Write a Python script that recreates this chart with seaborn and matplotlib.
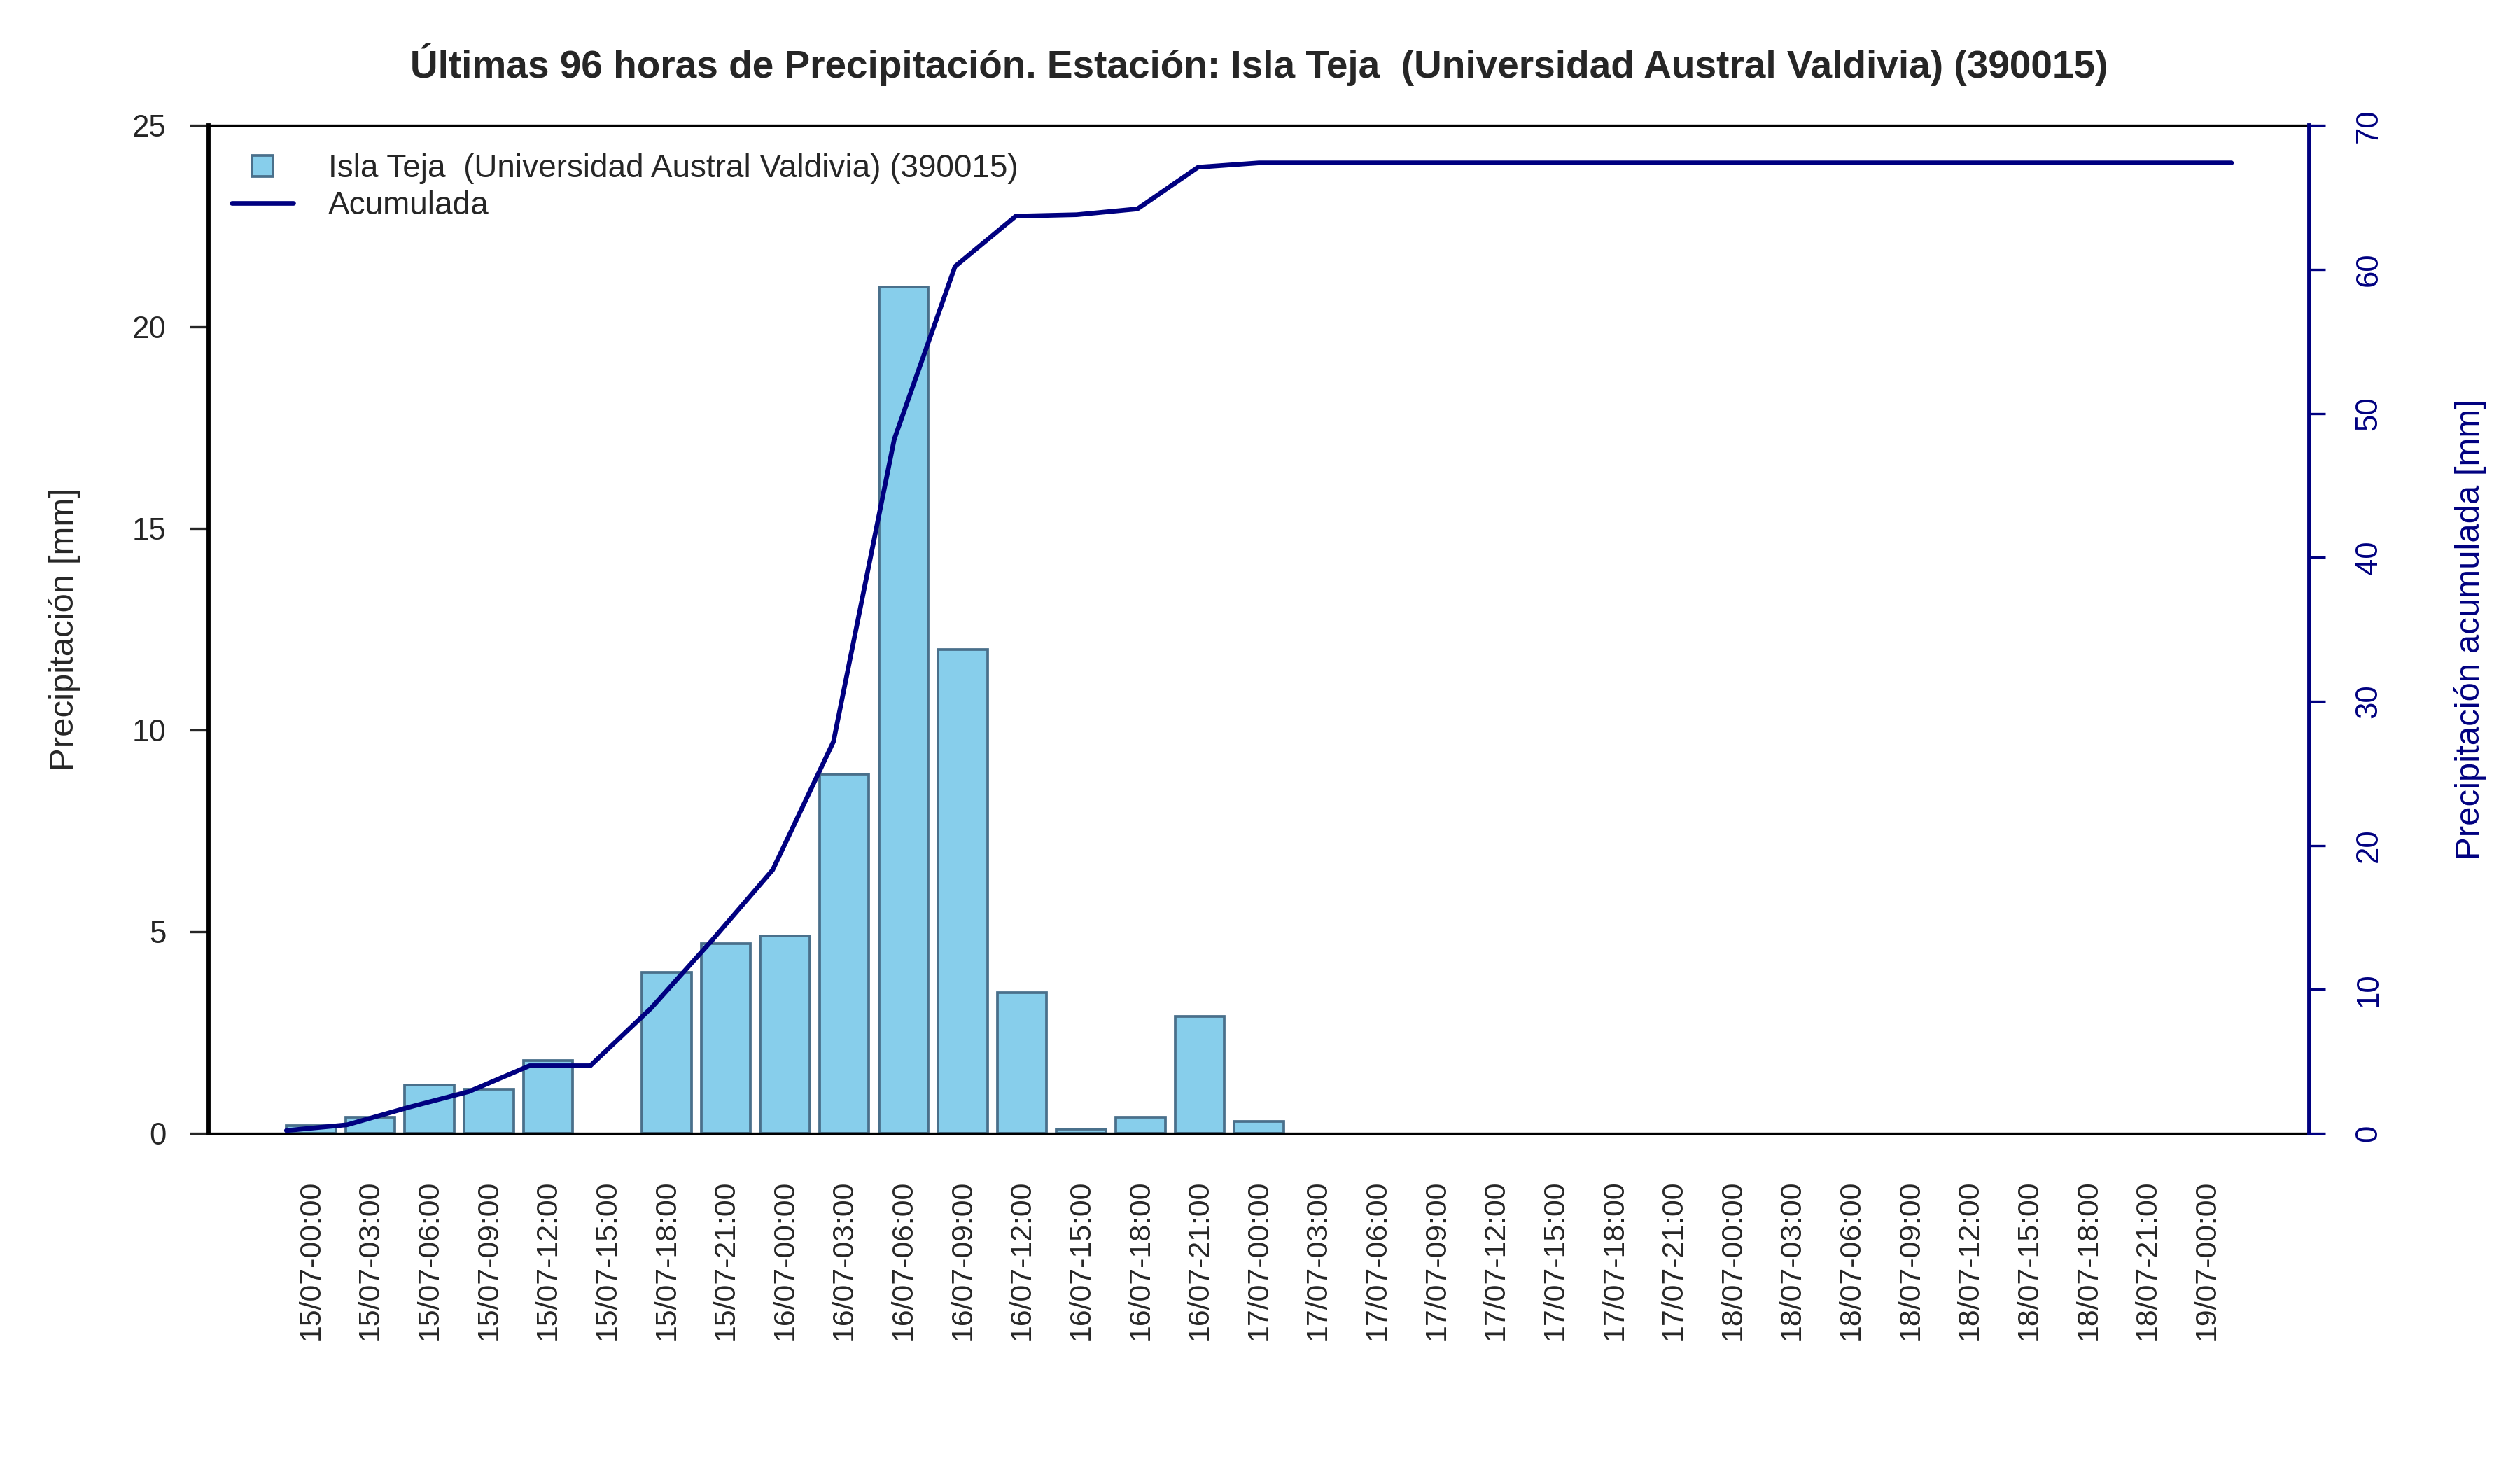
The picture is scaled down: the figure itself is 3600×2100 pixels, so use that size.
import numpy as np
import pandas as pd
import matplotlib
matplotlib.use("Agg")
import matplotlib.pyplot as plt
from matplotlib.lines import Line2D
import seaborn as sns

# 3-hourly precipitation at the station (mm)
horas = ["15/07-00:00", "15/07-03:00", "15/07-06:00", "15/07-09:00", "15/07-12:00",
         "15/07-15:00", "15/07-18:00", "15/07-21:00", "16/07-00:00", "16/07-03:00",
         "16/07-06:00", "16/07-09:00", "16/07-12:00", "16/07-15:00", "16/07-18:00",
         "16/07-21:00", "17/07-00:00", "17/07-03:00", "17/07-06:00", "17/07-09:00",
         "17/07-12:00", "17/07-15:00", "17/07-18:00", "17/07-21:00", "18/07-00:00",
         "18/07-03:00", "18/07-06:00", "18/07-09:00", "18/07-12:00", "18/07-15:00",
         "18/07-18:00", "18/07-21:00", "19/07-00:00"]
precip = [0.2, 0.4, 1.2, 1.1, 1.8, 0.0, 4.0, 4.7, 4.9, 8.9, 21.0, 12.0, 3.5, 0.1,
          0.4, 2.9, 0.3, 0.0, 0.0, 0.0, 0.0, 0.0, 0.0, 0.0, 0.0, 0.0, 0.0, 0.0,
          0.0, 0.0, 0.0, 0.0, 0.0]

estacion = "Isla Teja  (Universidad Austral Valdivia) (390015)"

df = pd.DataFrame({"hora": horas, "pp": precip})
df["acum"] = np.cumsum(df["pp"])
df["pos"] = np.arange(1, len(df) + 1)

sns.set_style("white")
plt.rcParams["font.family"] = ["Liberation Sans", "DejaVu Sans"]

fill = "#87CEEB"
edge = "#4A708B"
navy = "#000080"

fig = plt.figure(figsize=(12, 7), dpi=300)
rect = [0.0828, 0.229, 0.8336, 0.6857]
ax = fig.add_axes(rect)

sns.barplot(data=df, x="hora", y="pp", color=fill, edgecolor=edge,
            linewidth=0.9, width=0.833, saturation=1, ax=ax)
# empty hours draw nothing
for bar in ax.patches:
    if bar.get_height() == 0:
        bar.set_visible(False)
ax.set_xlim(-1.73, len(df) - 1 + 1.73)
ax.set_ylim(0, 25)
ax.set_yticks([0, 5, 10, 15, 20, 25])
ax.set_xlabel("")
ax.set_ylabel("Precipitación [mm]", fontsize=11.8)
ax.yaxis.set_label_coords(-0.061, 0.5)
ax.tick_params(axis="y", length=6.5, width=0.8, pad=8, labelsize=10.5, left=True)
ax.tick_params(axis="x", length=0, pad=16, labelsize=10.3, labelrotation=90)
for lab in ax.get_xticklabels():
    lab.set_va("top")
for side in ["top", "bottom", "left", "right"]:
    ax.spines[side].set_color("black")
    ax.spines[side].set_linewidth(0.8)
ax.spines["left"].set_linewidth(1.4)
ax.spines["right"].set_visible(False)

# accumulated line, on its own overlay (like par(new=TRUE) in R)
ax2 = fig.add_axes(rect, label="acum")
ax2.patch.set_visible(False)
sns.lineplot(data=df, x="pos", y="acum", color=navy, linewidth=1.6, ax=ax2)
ax2.set_xlim(1 - 0.04 * 32, len(df) + 0.04 * 32)
ax2.set_ylim(0, 70)
ax2.set_xticks([])
ax2.set_xlabel("")
ax2.yaxis.tick_right()
ax2.yaxis.set_label_position("right")
ax2.set_yticks(range(0, 71, 10))
ax2.tick_params(axis="y", colors=navy, length=5.5, width=0.8, pad=10, labelsize=10.5)
for lab in ax2.get_yticklabels():
    lab.set_rotation(90)
    lab.set_va("center")
ax2.set_ylabel("Precipitación acumulada [mm]", color=navy, fontsize=11.8)
ax2.yaxis.set_label_coords(1.069, 0.5)
for side in ["top", "bottom", "left"]:
    ax2.spines[side].set_visible(False)
ax2.spines["right"].set_color(navy)
ax2.spines["right"].set_linewidth(1.4)

handles = [
    Line2D([], [], linestyle="none", marker="s", markersize=7,
           markerfacecolor=fill, markeredgecolor=edge, markeredgewidth=0.9),
    Line2D([], [], color=navy, linewidth=1.6),
]
ax.legend(handles, [estacion, "Acumulada"], loc="upper left",
          bbox_to_anchor=(0.005, 0.985), frameon=False, fontsize=11,
          handlelength=1.9, handletextpad=1.1, labelspacing=0.2,
          borderaxespad=0)

fig.suptitle("Últimas 96 horas de Precipitación. Estación: " + estacion,
             x=0.4995, y=0.956, va="center", fontsize=13.2, fontweight="bold")

fig.savefig("out.png", dpi=300)
